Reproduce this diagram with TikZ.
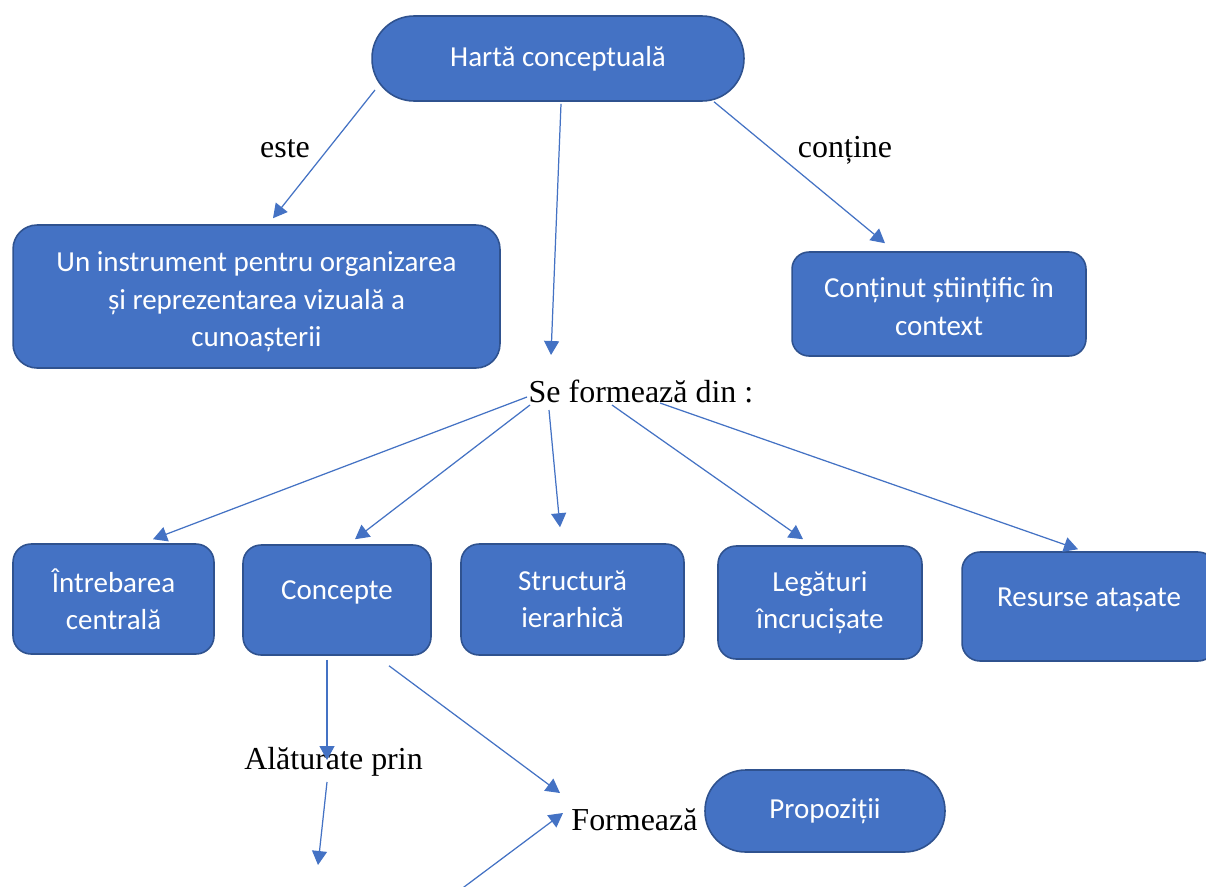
\documentclass[tikz,border=0pt]{standalone}
\usepackage{fontspec}
\setmainfont{Liberation Serif}
\newfontfamily\boxfont{Carlito}
\usetikzlibrary{arrows.meta}
\definecolor{boxblue}{HTML}{4472C4}
\definecolor{boxedge}{HTML}{2F528F}
\definecolor{arrowblue}{HTML}{4472C4}
\tikzset{
 box/.style={draw=boxedge, fill=boxblue, line width=0.9pt, text=white, align=center, inner sep=0pt, font=\boxfont\fontsize{16.5}{21.3}\selectfont},
 lbl/.style={anchor=base, inner sep=0pt, font=\fontsize{18.2}{22}\selectfont},
 arr/.style={draw=arrowblue, line width=0.7pt, -{Triangle[length=0.28cm,width=0.3cm]}},
 off/.style 2 args={xshift=#1*0.02cm, yshift=#2*0.02cm},
}
\begin{document}
\begin{tikzpicture}[x=0.02cm,y=-0.02cm]
\clip (0,0) rectangle (1206,886);
\fill[white] (0,0) rectangle (1206,886);
% boxes
\node[box, minimum width=7.44cm, minimum height=1.70cm, rounded corners=0.84cm] (h) at (558,58.5) {Hartă conceptuală};
\node[box, minimum width=9.74cm, minimum height=2.86cm, rounded corners=0.48cm] (u) at (256.5,296.5) {\rule{0pt}{0.62cm}Un instrument pentru organizarea\\și reprezentarea vizuală a\\cunoașterii};
\node[box, minimum width=5.88cm, minimum height=2.08cm, rounded corners=0.34cm] (ct) at (939,304) {\rule{0pt}{0.5cm}Conținut științific în\\context};
\node[box, minimum width=4.02cm, minimum height=2.2cm, rounded corners=0.36cm] (i) at (113.5,599) {Întrebarea\\centrală};
\node[box, minimum width=3.76cm, minimum height=2.2cm, rounded corners=0.36cm] (con) at (337,600) {\raisebox{0.4cm}{Concepte}};
\node[box, minimum width=4.46cm, minimum height=2.22cm, rounded corners=0.36cm] (s) at (572.5,599.5) {Structură\\ierarhică};
\node[box, minimum width=4.08cm, minimum height=2.26cm, rounded corners=0.36cm] (l) at (820,602.5) {Legături\\încrucișate};
\node[box, minimum width=5.08cm, minimum height=2.18cm, rounded corners=0.36cm] (r) at (1089,606.5) {\raisebox{0.36cm}{Resurse atașate}};
\node[box, minimum width=4.8cm, minimum height=1.64cm, rounded corners=0.81cm] (p) at (825,811) {Propoziții};
% labels
\node[lbl] (este) at (285,157) {este};
\node[lbl] (cont) at (845,157) {conține};
\node[lbl] (se) at (641,402) {Se formează din :};
\node[lbl] (al) at (333.5,769) {Alăturate prin};
\node[lbl] (fo) at (634.5,830) {Formează};
% connectors
\draw[arr] ([off={-183}{-31.5}]h.center) -- ([off={16.5}{6}]u.north);
\draw[arr] ([off={3}{-2}]h.south) -- ([off={-90}{47}]se.base);
\draw[arr] ([off={156}{0}]h.south) -- ([off={-54}{8}]ct.north);
\draw[arr] ([off={-114}{5}]se.base) -- ([off={39.5}{4}]i.north);
\draw[arr] ([off={-111}{-3}]se.base) -- ([off={18}{5}]con.north);
\draw[arr] ([off={-92}{-8}]se.base) -- ([off={-12.5}{16}]s.north);
\draw[arr] ([off={-29}{-3}]se.base) -- ([off={-17}{6}]l.north);
\draw[arr] ([off={19}{-1}]se.base) -- ([off={-11}{2}]r.north);
\draw[arr] ([off={-10}{-4}]con.south) -- ([off={-6.5}{9}]al.base);
\draw[arr] ([off={52}{-10}]con.south) -- ([off={-74.5}{37}]fo.base);
\coordinate (x1) at (318,865);
\coordinate (x2) at (460,890);
\draw[arr] ([off={-6.5}{-13}]al.base) -- (x1);
\draw[arr] (x2) -- ([off={-71.5}{17}]fo.base);
\end{tikzpicture}
\end{document}
